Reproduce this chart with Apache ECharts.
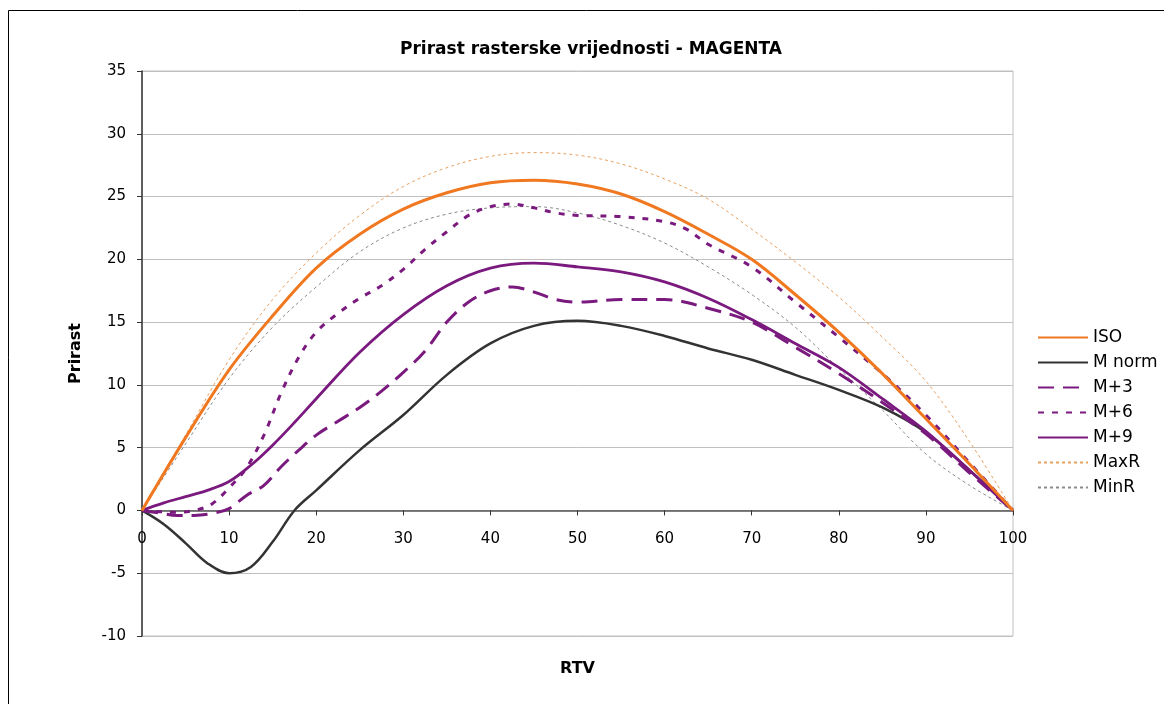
<!DOCTYPE html>
<html><head><meta charset="utf-8">
<script src="https://cdn.jsdelivr.net/npm/echarts@6/dist/echarts.min.js"></script>
<style>html,body{margin:0;padding:0;background:#fff}#c{width:1164px;height:704px}</style>
</head><body><div id="c"></div>
<script>
const titleText = 'Prirast rasterske vrijednosti - MAGENTA';
const xName = 'RTV';
const yName = 'Prirast';
const seriesNames = ['ISO','M norm','M+3','M+6','M+9','MaxR','MinR'];

const xStd = [0,5,10,15,20,25,30,35,40,45,50,55,60,65,70,75,80,85,90,95,100];
const isoY  = [0,5.8,11.2,15.5,19.3,22.0,24.0,25.3,26.1,26.3,26.0,25.2,23.8,22.0,20.0,17.2,14.2,10.9,7.3,3.7,0];
const maxRY = [0,6.0,12.0,16.8,20.5,23.5,25.8,27.3,28.2,28.5,28.3,27.6,26.4,24.8,22.4,19.8,17.0,13.8,10.3,5.5,0];
const minRY = [0,5.3,10.5,14.6,17.8,20.6,22.5,23.6,24.1,24.2,23.7,22.7,21.3,19.4,17.2,14.6,11.3,8.0,4.5,2.0,0];

const xFine = [0,2.5,5,7.5,10,12.5,15,17.5,20,25,30,35,40,45,50,55,60,65,70,75,80,85,90,95,100];
const mNormY = [0,-1.1,-2.6,-4.2,-5.0,-4.5,-2.5,0,1.6,4.8,7.6,10.8,13.3,14.7,15.1,14.7,13.9,12.9,12.0,10.8,9.6,8.2,6.2,3.2,0];
const m9Y    = [0,0.6,1.1,1.6,2.3,3.6,5.2,7.0,8.9,12.6,15.6,17.9,19.3,19.7,19.4,19.0,18.2,16.9,15.2,13.3,11.4,8.9,6.3,3.2,0];

const xM6 = [0,2,4,6,8,10,12,14,16,18,20,22.5,25,27.5,30,32.5,35,37.5,40,42.5,45,47.5,50,55,60,62.5,65,70,75,80,85,90,95,100];
const m6Y = [0,-0.1,-0.15,0,0.5,1.8,3.4,6.0,9.4,12.2,14.2,15.7,16.9,17.9,19.2,20.8,22.2,23.5,24.2,24.4,24.1,23.7,23.5,23.4,23.0,22.4,21.2,19.4,16.6,13.8,10.9,7.6,3.8,0];

const xM3 = [0,2,4,6,8,10,12,14,16,18,20,22.5,25,27.5,30,32.5,35,37.5,40,42.5,45,47.5,50,55,60,65,70,75,80,85,90,95,100];
const m3Y = [0,-0.2,-0.4,-0.4,-0.25,0.15,1.2,2.0,3.5,4.8,6.0,7.1,8.2,9.5,11.0,12.7,15.0,16.6,17.5,17.8,17.4,16.8,16.6,16.8,16.8,16.1,15.0,13.0,10.9,8.6,6.1,3.0,0];

const yMin = -10, yMax = 35;

function pairs(xs, ys){ return xs.map((x,i)=>[x, ys[i]]); }

const FONT = 'DejaVu Sans';
const GRID = {left:142, top:71, right:151, bottom:68};
const plotH = 704 - GRID.top - GRID.bottom;
// move the x axis up so it crosses the y axis at value 0
const zeroOffset = -plotH * (0 - yMin) / (yMax - yMin);

const chart = echarts.init(document.getElementById('c'));
function mk(name, xs, ys, color, width, type, z){
  return {name, type:'line', data:pairs(xs,ys), smooth:0.35, symbol:'none', showSymbol:false, z,
    lineStyle:{color, width, type}, itemStyle:{color}};
}
chart.setOption({
  animation:false,
  backgroundColor:'#fff',
  title:{text:titleText, left:586, top:36, textAlign:'center',
    textStyle:{fontFamily:FONT, fontSize:17, fontWeight:'bold', color:'#000'}},
  graphic:[{type:'rect', shape:{x:8.5,y:10.5,width:1200,height:800}, style:{fill:null, stroke:'#000', lineWidth:1}, silent:true, z:-10}],
  grid:Object.assign({show:true, borderColor:'#c0c0c0', borderWidth:1, backgroundColor:'#fff',
    outerBoundsMode:'none', containLabel:false}, GRID),
  legend:{orient:'vertical', left:1032, top:324, itemWidth:50, itemHeight:14, itemGap:8,
    itemStyle:{opacity:0, borderWidth:0},
    textStyle:{fontFamily:FONT, fontSize:17, color:'#000'}, data:seriesNames},
  xAxis:{type:'value', min:0, max:100, interval:10, position:'bottom', offset:zeroOffset,
    name:xName, nameLocation:'middle', nameGap:150,
    nameTextStyle:{fontFamily:FONT, fontSize:16, fontWeight:'bold', color:'#000'},
    axisLine:{onZero:false, lineStyle:{color:'#555', width:1.5}},
    axisTick:{show:true, length:5, lineStyle:{color:'#333'}},
    axisLabel:{fontFamily:FONT, fontSize:15, color:'#000', margin:21},
    splitLine:{show:false}},
  yAxis:{type:'value', min:yMin, max:yMax, interval:5,
    name:yName, nameLocation:'middle', nameGap:58, nameRotate:90,
    nameTextStyle:{fontFamily:FONT, fontSize:16, fontWeight:'bold', color:'#000'},
    axisLine:{show:true, onZero:false, lineStyle:{color:'#333', width:1.5}},
    axisTick:{show:true, length:5, lineStyle:{color:'#333'}},
    axisLabel:{fontFamily:FONT, fontSize:15, color:'#000', margin:16},
    splitLine:{show:true, lineStyle:{color:'#c0c0c0', width:1}}},
  series:[
    mk('MaxR', xStd, maxRY, '#e8a060', 1, [3,3], 2),
    mk('MinR', xStd, minRY, '#8a8a8a', 1, [3,3], 2),
    mk('M norm', xFine, mNormY, '#333333', 2.5, 'solid', 3),
    mk('M+3', xM3, m3Y, '#7a1a7e', 3, [16,9], 4),
    mk('M+6', xM6, m6Y, '#7a1a7e', 3, [6,8], 4),
    mk('M+9', xFine, m9Y, '#7a1a7e', 2.8, 'solid', 4),
    mk('ISO', xStd, isoY, '#f07820', 3, 'solid', 5)
  ]
});
</script></body></html>
